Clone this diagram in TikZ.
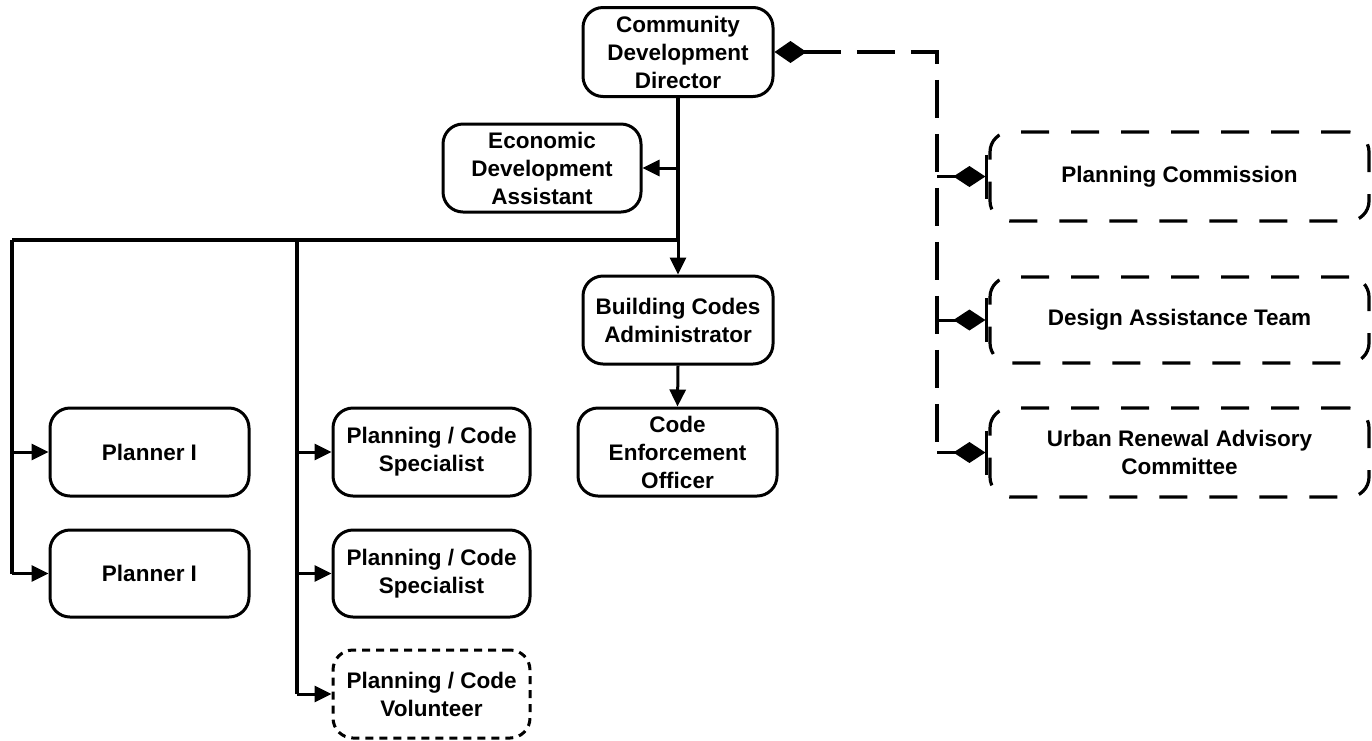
\documentclass[tikz,border=0pt]{standalone}
\usepackage{fontspec}
\setmainfont{Liberation Sans}
\usetikzlibrary{arrows.meta}
\begin{document}
\begin{tikzpicture}[x=1pt,y=-1pt,
  box/.style={draw, line width=3pt, rounded corners=20pt, inner sep=0pt, align=center,
    font=\bfseries\fontsize{22.5}{28}\selectfont},
  cbox/.style={box, dash pattern=on 28pt off 22pt, line width=3.2pt},
  vbox/.style={box, dash pattern=on 8pt off 6pt},
  mainline/.style={line width=4.5pt},
  branch/.style={line width=3.5pt},
  arr/.style={line width=3pt, -{Triangle[length=17pt,width=16pt]}},
  dline/.style={line width=4pt, dash pattern=on 38pt off 16pt},
  dtip/.style={line width=3pt, dash pattern=on 38pt off 16pt,
    -{Diamond[length=32pt,width=21pt]Bar[width=44pt,line width=3pt]}}
]
\useasboundingbox (0,0) rectangle (1372,740);
\node[box, minimum width=190pt, minimum height=89pt] (cdd) at (678,52) {Community\\Development\\Director};
\node[box, minimum width=198pt, minimum height=88pt] (eda) at (542,168) {Economic\\Development\\Assistant};
\node[box, minimum width=190pt, minimum height=88pt] (bca) at (678,320) {Building Codes\\Administrator};
\node[box, minimum width=199pt, minimum height=88pt] (ceo) at (677.5,452) {Code\\Enforcement\\Officer};
\node[box, minimum width=199pt, minimum height=88pt] (p1) at (149.5,452) {Planner I};
\node[box, minimum width=199pt, minimum height=87pt] (p2) at (149.5,573.5) {Planner I};
\node[box, minimum width=197pt, minimum height=88pt] (s1) at (431.5,452) {Planning / Code\\Specialist};
\node[box, minimum width=197pt, minimum height=87pt] (s2) at (431.5,573.5) {Planning / Code\\Specialist};
\node[vbox, minimum width=197pt, minimum height=88pt] (v) at (431.5,694) {Planning / Code\\Volunteer};
\node[cbox, minimum width=379pt, minimum height=89pt] (pc) at (1179.5,176.5) {Planning Commission};
\node[cbox, minimum width=379pt, minimum height=86pt] (dat) at (1179.5,320) {Design Assistance Team};
\node[cbox, minimum width=379pt, minimum height=89pt] (urac) at (1179.5,452.5) {Urban Renewal Advisory\\Committee};

\coordinate (j) at (678,240);
\coordinate (l1) at (12,240);
\coordinate (l2) at (297,240);
\coordinate (dc) at (937,52);
\coordinate (db) at (937,452.5);

\draw[mainline] (cdd.south) -- (j) -- (l1);
\draw[branch] (l1) -- (l1 |- p2.west);
\draw[branch] (l2) -- (l2 |- v.west);
\draw[arr] (cdd.south |- eda.east) -- (eda.east);
\draw[arr] (j) -- (bca.north);
\draw[arr] (bca.south) -- (ceo.north);
\draw[arr] (l1 |- p1.west) -- (p1.west);
\draw[arr] (l1 |- p2.west) -- (p2.west);
\draw[arr] (l2 |- s1.west) -- (s1.west);
\draw[arr] (l2 |- s2.west) -- (s2.west);
\draw[arr] (l2 |- v.west) -- (v.west);

\draw[dline, {Diamond[length=32pt,width=22pt]}-] (cdd.east) -- (dc) -- (db);
\draw[dtip] (dc |- pc.west) -- (pc.west);
\draw[dtip] (dc |- dat.west) -- (dat.west);
\draw[dtip] (db) -- (urac.west);
\end{tikzpicture}
\end{document}
